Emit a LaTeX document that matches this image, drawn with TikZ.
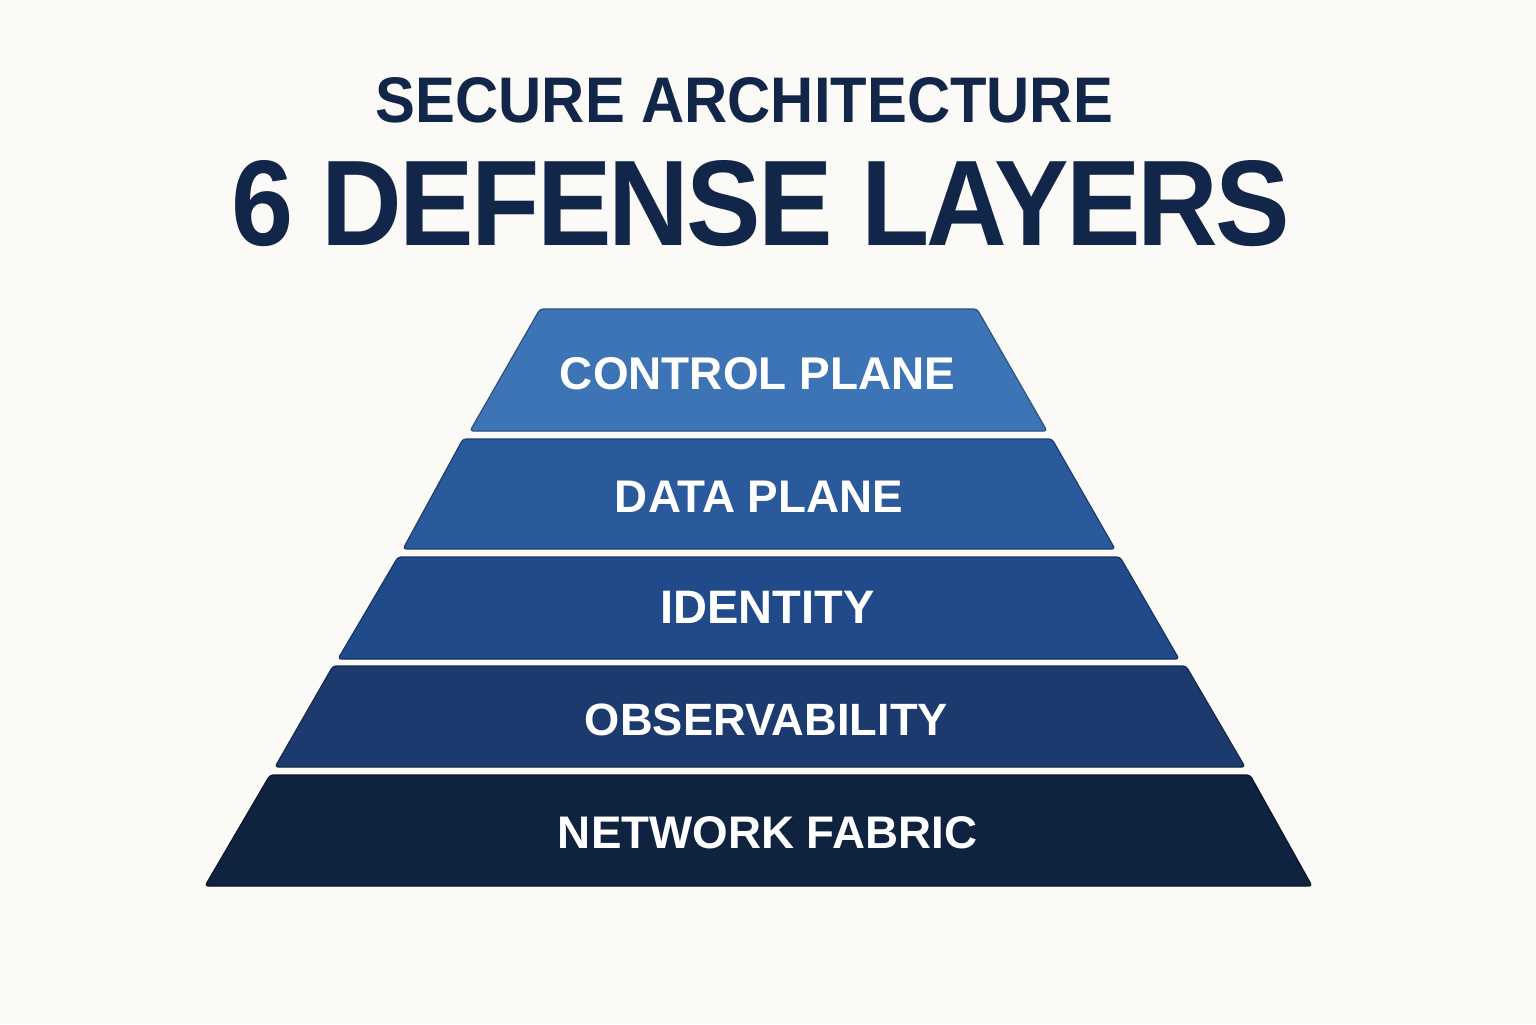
\documentclass[tikz,border=0pt]{standalone}
\usepackage{fontspec}
\setmainfont{Liberation Sans}
\newfontfamily\titlefont{Liberation Sans}[LetterSpace=-2.5]
\usepackage{graphicx}
\definecolor{bgc}{HTML}{FBFAF7}
\definecolor{titlec}{HTML}{12264A}
\definecolor{lay1}{HTML}{3D74B5}
\definecolor{lay2}{HTML}{2A599C}
\definecolor{lay3}{HTML}{214A8A}
\definecolor{lay4}{HTML}{1C3A6E}
\definecolor{lay5}{HTML}{0F2240}
\begin{document}
\begin{tikzpicture}[x=0.5pt,y=-0.5pt,
  layerbox/.style={rounded corners=1.5pt, line width=0.6pt, line join=round},
  titletext/.style={inner sep=0pt, text=titlec, anchor=base},
  layertext/.style={inner sep=0pt, text=white, anchor=base}]
\fill[bgc] (0,0) rectangle (1536,1024);
\useasboundingbox (0,0) rectangle (1536,1024);
% layers
\draw[layerbox, fill=lay1, draw=lay1!70!black] (540,309) -- (977,309) -- (1047,431) -- (470,431) -- cycle;
\draw[layerbox, fill=lay2, draw=lay2!70!black] (463,439) -- (1052,439) -- (1115,549) -- (403,549) -- cycle;
\draw[layerbox, fill=lay3, draw=lay3!70!black] (398,557) -- (1120,557) -- (1179,659) -- (338,659) -- cycle;
\draw[layerbox, fill=lay4, draw=lay4!70!black] (333,666) -- (1186,666) -- (1245,767) -- (275,767) -- cycle;
\draw[layerbox, fill=lay5, draw=lay5!60!black] (270,775) -- (1250,775) -- (1312,886) -- (205,886) -- cycle;
% titles
\node[titletext] (t1) at (744.5,122) {\resizebox{368.5pt}{22.5pt}{\bfseries SECURE ARCHITECTURE}};
\node[titletext] (t2) at (761,245) {\resizebox{529pt}{42.5pt}{\titlefont\bfseries 6 DEFENSE LAYERS}};
% labels
\node[layertext] (l1) at (757.5,389) {\resizebox{197.5pt}{!}{\bfseries CONTROL PLANE}};
\node[layertext] (l2) at (759,512) {\resizebox{144pt}{!}{\bfseries DATA PLANE}};
\node[layertext] (l3) at (767.5,623) {\resizebox{107pt}{!}{\bfseries IDENTITY}};
\node[layertext] (l4) at (766.5,735) {\resizebox{181.5pt}{!}{\bfseries OBSERVABILITY}};
\node[layertext] (l5) at (767.5,848) {\resizebox{209.5pt}{!}{\bfseries NETWORK FABRIC}};
\end{tikzpicture}
\end{document}
